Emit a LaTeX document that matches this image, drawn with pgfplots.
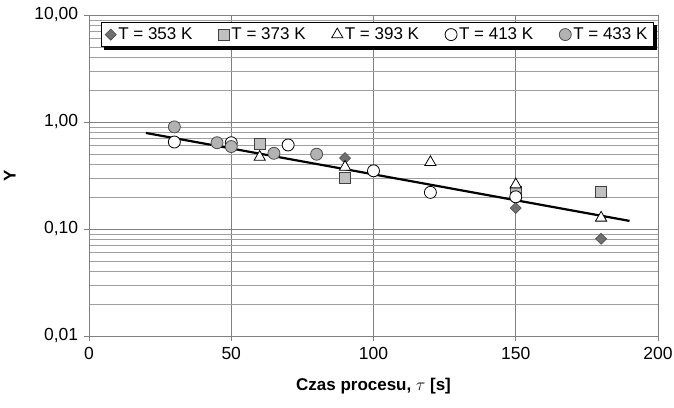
\documentclass[border=0pt]{standalone}
\usepackage{pgfplots}
\pgfplotsset{compat=1.18}
\usepackage{fontspec}
\setmainfont{Liberation Sans}

\definecolor{framegray}{RGB}{128,128,128}
\definecolor{gridgray}{RGB}{160,160,160}
\definecolor{darkfill}{RGB}{112,112,112}
\definecolor{lightfill}{RGB}{192,192,192}
\definecolor{circfill}{RGB}{178,178,178}

\begin{document}
\fontsize{17}{20}\selectfont
\begin{tikzpicture}
\path[use as bounding box] (-89pt,-71pt) rectangle (585pt,336pt);
\begin{axis}[
  at={(0,0)}, anchor=south west,
  scale only axis,
  width=569pt, height=321pt,
  xmin=0, xmax=200,
  ymode=log, ymin=0.01, ymax=10,
  xtick={0,50,100,150,200},
  ytick={0.01,0.1,1,10},
  yticklabels={{0,01},{0,10},{1,00},{10,00}},
  minor ytick={0.02,0.03,0.04,0.05,0.06,0.07,0.08,0.09,
               0.2,0.3,0.4,0.5,0.6,0.7,0.8,0.9,
               2,3,4,5,6,7,8,9},
  xticklabel style={/pgf/number format/assume math mode=true},
  tick label style={font=\fontsize{17.5}{20}\selectfont},
  xmajorgrids, ymajorgrids, yminorgrids,
  major grid style={framegray, line width=0.6pt},
  minor grid style={gridgray, line width=0.5pt},
  axis line style={framegray, line width=0.8pt},
  tick style={framegray, line width=0.8pt},
  tick align=outside,
  major tick length=5pt,
  minor tick length=0pt,
  xtick pos=bottom, ytick pos=left,
  xlabel={\textbf{Czas procesu, $\tau$ [s]}},
  ylabel={\textbf{Y}},
  label style={font=\fontsize{17}{20}\selectfont\bfseries},
  xlabel style={at={(0.5,0)}, yshift=-36pt, anchor=north},
  ylabel style={at={(axis description cs:-0.139,0.5)}, anchor=center},
  legend columns=5,
  legend style={
    name=leg,
    at={(0.021,0.978)}, anchor=north west,
    draw=black, fill=white, line width=0.6pt,
    font=\fontsize{17}{20}\selectfont,
    /tikz/every even column/.append style={column sep=24pt},
    inner xsep=4pt, inner ysep=3pt,
  },
  legend cell align=left,
  clip=false,
]

% T = 353 K
\addplot[only marks, mark=square*, mark size=3.9pt,
  mark options={rotate=45, fill=darkfill, draw=black!70, line width=0.6pt}]
  coordinates {(90,0.46) (150,0.157) (180,0.081)};

% T = 373 K
\addplot[only marks, mark=square*, mark size=5.5pt,
  mark options={fill=lightfill, draw=black!75, line width=0.8pt}]
  coordinates {(60,0.62) (90,0.30) (150,0.22) (180,0.22)};

% T = 393 K
\addplot[only marks, mark=triangle*, mark size=6.5pt,
  mark options={fill=white, draw=black, line width=0.8pt}]
  coordinates {(60,0.47) (90,0.38) (120,0.42) (150,0.26) (180,0.127)};

% T = 413 K
\addplot[only marks, mark=*, mark size=6pt,
  mark options={fill=white, draw=black, line width=0.8pt}]
  coordinates {(30,0.65) (50,0.64) (70,0.61) (100,0.35) (120,0.22) (150,0.20)};

% T = 433 K
\addplot[only marks, mark=*, mark size=6pt,
  mark options={fill=circfill, draw=black!70, line width=0.8pt}]
  coordinates {(30,0.90) (45,0.64) (50,0.59) (65,0.51) (80,0.50)};

% trend line
\addplot[black, line width=2.2pt, no marks, forget plot]
  coordinates {(20,0.79) (190,0.119)};

\legend{T = 353 K, T = 373 K, T = 393 K, T = 413 K, T = 433 K}
\end{axis}
% shadow of the legend box
\fill[black] ([xshift=3pt]leg.south west) rectangle ([shift={(3pt,-3pt)}]leg.south east);
\fill[black] ([yshift=-3pt]leg.north east) rectangle ([xshift=3pt]leg.south east);
\end{tikzpicture}
\end{document}
